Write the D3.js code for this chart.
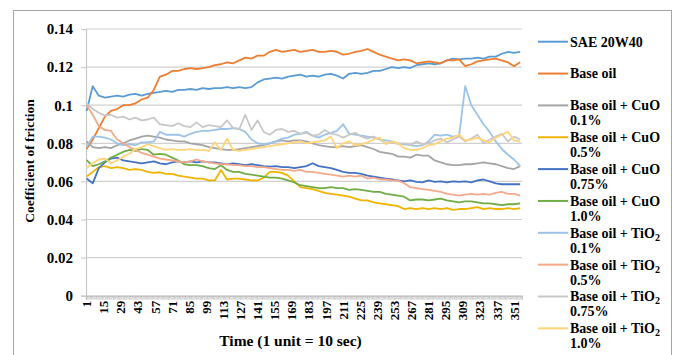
<!DOCTYPE html>
<html>
<head>
<meta charset="utf-8">
<script src="https://cdn.jsdelivr.net/npm/d3@7"></script>
<style>
  body { margin: 0; background: #fff; }
  text { font-family: "Liberation Serif", "Times New Roman", serif; font-weight: bold; fill: #000; }
</style>
</head>
<body>
<svg id="chart" width="678" height="355"></svg>
<script>
const N_READINGS = 357;
const SAMPLE_STEP = 5;
const X_TICKS = [1, 15, 29, 43, 57, 71, 85, 99, 113, 127, 141, 155, 169, 183, 197, 211, 225, 239, 253, 267, 281, 295, 309, 323, 337, 351];
const Y_TICKS = [0, 0.02, 0.04, 0.06, 0.08, 0.1, 0.12, 0.14];

const SAE_20W40 = [0.097, 0.110, 0.105, 0.104, 0.1045, 0.105, 0.1045, 0.1055, 0.106, 0.105, 0.106, 0.1065, 0.107, 0.1075, 0.107, 0.108, 0.108, 0.1085, 0.108, 0.109, 0.1085, 0.109, 0.109, 0.1095, 0.109, 0.1095, 0.109, 0.1095, 0.112, 0.1135, 0.114, 0.1145, 0.114, 0.115, 0.1155, 0.116, 0.115, 0.1155, 0.115, 0.116, 0.1165, 0.1155, 0.114, 0.1165, 0.117, 0.1165, 0.117, 0.118, 0.118, 0.119, 0.120, 0.1195, 0.120, 0.1195, 0.121, 0.1215, 0.122, 0.1215, 0.122, 0.1235, 0.1245, 0.124, 0.1245, 0.1245, 0.125, 0.1245, 0.1255, 0.1255, 0.127, 0.128, 0.1275, 0.128];
const BASE_OIL = [0.077, 0.082, 0.088, 0.094, 0.097, 0.098, 0.100, 0.100, 0.101, 0.103, 0.104, 0.108, 0.115, 0.116, 0.118, 0.118, 0.119, 0.1195, 0.119, 0.1195, 0.120, 0.121, 0.1215, 0.1225, 0.122, 0.1235, 0.125, 0.1245, 0.126, 0.126, 0.128, 0.129, 0.128, 0.1285, 0.129, 0.128, 0.1285, 0.129, 0.128, 0.128, 0.1285, 0.128, 0.1265, 0.127, 0.128, 0.1285, 0.1295, 0.128, 0.1265, 0.1255, 0.1245, 0.1235, 0.124, 0.1235, 0.122, 0.1225, 0.123, 0.1225, 0.122, 0.1235, 0.1235, 0.124, 0.1205, 0.1215, 0.123, 0.1235, 0.124, 0.1245, 0.1235, 0.1225, 0.1205, 0.1225];
const CUO_01 = [0.081, 0.078, 0.0775, 0.078, 0.0775, 0.079, 0.080, 0.0815, 0.0825, 0.0835, 0.084, 0.0835, 0.083, 0.082, 0.0815, 0.081, 0.081, 0.080, 0.0795, 0.079, 0.078, 0.0775, 0.077, 0.0765, 0.0765, 0.077, 0.0775, 0.078, 0.0785, 0.079, 0.080, 0.081, 0.0815, 0.081, 0.0815, 0.0815, 0.081, 0.080, 0.079, 0.0785, 0.078, 0.078, 0.0785, 0.078, 0.0785, 0.079, 0.078, 0.077, 0.0755, 0.075, 0.0745, 0.073, 0.073, 0.0725, 0.074, 0.0735, 0.0735, 0.071, 0.070, 0.069, 0.0685, 0.0685, 0.069, 0.069, 0.0695, 0.070, 0.0695, 0.069, 0.068, 0.067, 0.0665, 0.068];
const CUO_05 = [0.0625, 0.065, 0.0675, 0.068, 0.067, 0.0675, 0.067, 0.066, 0.0665, 0.066, 0.065, 0.0645, 0.0648, 0.064, 0.064, 0.063, 0.0625, 0.062, 0.0615, 0.0615, 0.0605, 0.0605, 0.066, 0.061, 0.0615, 0.0615, 0.061, 0.0605, 0.0605, 0.062, 0.065, 0.065, 0.0645, 0.063, 0.060, 0.057, 0.0565, 0.056, 0.055, 0.054, 0.0535, 0.053, 0.0525, 0.052, 0.051, 0.050, 0.050, 0.049, 0.0485, 0.048, 0.0475, 0.047, 0.0455, 0.046, 0.0455, 0.046, 0.0455, 0.046, 0.0455, 0.046, 0.045, 0.0455, 0.0455, 0.046, 0.0465, 0.0455, 0.046, 0.0455, 0.0455, 0.046, 0.0455, 0.046];
const CUO_075 = [0.0615, 0.059, 0.067, 0.070, 0.072, 0.0725, 0.071, 0.0705, 0.070, 0.0695, 0.070, 0.0705, 0.0695, 0.069, 0.070, 0.0705, 0.070, 0.0705, 0.070, 0.0705, 0.070, 0.070, 0.0695, 0.069, 0.0695, 0.069, 0.0685, 0.069, 0.0685, 0.068, 0.0678, 0.068, 0.0675, 0.0675, 0.067, 0.0675, 0.068, 0.0695, 0.068, 0.0675, 0.067, 0.066, 0.065, 0.0645, 0.0645, 0.064, 0.063, 0.0625, 0.062, 0.0615, 0.061, 0.0605, 0.060, 0.0605, 0.0598, 0.0595, 0.0605, 0.0598, 0.060, 0.0595, 0.060, 0.0598, 0.060, 0.0595, 0.0605, 0.061, 0.060, 0.059, 0.0585, 0.0585, 0.0585, 0.0585];
const CUO_10 = [0.0712, 0.068, 0.069, 0.0705, 0.0725, 0.074, 0.0755, 0.0765, 0.076, 0.077, 0.0765, 0.074, 0.0745, 0.074, 0.0725, 0.071, 0.069, 0.0685, 0.0685, 0.068, 0.067, 0.0665, 0.0685, 0.066, 0.065, 0.065, 0.064, 0.0635, 0.063, 0.0625, 0.062, 0.062, 0.0615, 0.0605, 0.0595, 0.058, 0.0575, 0.057, 0.0565, 0.0565, 0.057, 0.0565, 0.0565, 0.0555, 0.056, 0.0555, 0.055, 0.0545, 0.0545, 0.0535, 0.053, 0.0525, 0.052, 0.050, 0.0505, 0.0505, 0.050, 0.0505, 0.051, 0.050, 0.0495, 0.049, 0.0495, 0.0495, 0.049, 0.0485, 0.0485, 0.048, 0.0475, 0.048, 0.048, 0.0485];
const TIO2_01 = [0.078, 0.0835, 0.0835, 0.083, 0.082, 0.080, 0.079, 0.0795, 0.079, 0.0805, 0.0805, 0.081, 0.086, 0.0845, 0.0845, 0.0845, 0.0835, 0.085, 0.086, 0.0865, 0.0865, 0.087, 0.0875, 0.0875, 0.088, 0.0875, 0.086, 0.082, 0.080, 0.0795, 0.080, 0.081, 0.0825, 0.083, 0.0845, 0.085, 0.086, 0.084, 0.083, 0.0845, 0.0855, 0.0865, 0.090, 0.085, 0.0845, 0.084, 0.0835, 0.083, 0.082, 0.0815, 0.081, 0.080, 0.0795, 0.079, 0.0785, 0.079, 0.081, 0.0845, 0.084, 0.0845, 0.0835, 0.084, 0.110, 0.100, 0.095, 0.090, 0.086, 0.081, 0.077, 0.074, 0.0715, 0.068];
const TIO2_05 = [0.100, 0.095, 0.089, 0.087, 0.0865, 0.082, 0.080, 0.078, 0.0765, 0.075, 0.074, 0.073, 0.072, 0.0715, 0.071, 0.0705, 0.070, 0.0705, 0.0715, 0.0705, 0.070, 0.0695, 0.069, 0.069, 0.0685, 0.0685, 0.068, 0.068, 0.0675, 0.0675, 0.067, 0.0665, 0.066, 0.066, 0.0655, 0.066, 0.065, 0.065, 0.0645, 0.064, 0.0635, 0.063, 0.0625, 0.063, 0.0625, 0.063, 0.0615, 0.062, 0.061, 0.061, 0.0605, 0.0605, 0.059, 0.057, 0.0565, 0.056, 0.0555, 0.055, 0.0545, 0.0535, 0.053, 0.0525, 0.053, 0.0535, 0.053, 0.0535, 0.053, 0.054, 0.0545, 0.0535, 0.0535, 0.0525];
const TIO2_075 = [0.101, 0.098, 0.096, 0.0945, 0.095, 0.0935, 0.094, 0.0925, 0.0935, 0.092, 0.0925, 0.0935, 0.090, 0.0895, 0.089, 0.0905, 0.089, 0.0885, 0.091, 0.0885, 0.0895, 0.089, 0.0885, 0.092, 0.088, 0.0875, 0.095, 0.087, 0.092, 0.086, 0.0845, 0.087, 0.0875, 0.086, 0.0865, 0.085, 0.0855, 0.084, 0.0845, 0.087, 0.085, 0.0845, 0.083, 0.0845, 0.0855, 0.0835, 0.0825, 0.0835, 0.082, 0.080, 0.0805, 0.0795, 0.080, 0.079, 0.081, 0.0795, 0.080, 0.0815, 0.0825, 0.0805, 0.082, 0.0835, 0.081, 0.0825, 0.0845, 0.080, 0.082, 0.0835, 0.085, 0.081, 0.0835, 0.082];
const TIO2_10 = [0.067, 0.0695, 0.0715, 0.072, 0.0695, 0.071, 0.073, 0.0745, 0.077, 0.078, 0.0795, 0.0785, 0.0775, 0.0765, 0.077, 0.0765, 0.0765, 0.077, 0.0765, 0.0765, 0.076, 0.0805, 0.0765, 0.0825, 0.0765, 0.076, 0.0765, 0.077, 0.0775, 0.078, 0.0785, 0.079, 0.0795, 0.080, 0.0805, 0.081, 0.080, 0.0805, 0.081, 0.0815, 0.0835, 0.0775, 0.080, 0.081, 0.079, 0.0795, 0.0805, 0.082, 0.083, 0.0795, 0.081, 0.080, 0.0775, 0.0765, 0.0765, 0.0775, 0.079, 0.0795, 0.081, 0.0825, 0.083, 0.0845, 0.0815, 0.082, 0.083, 0.0815, 0.0805, 0.083, 0.0845, 0.086, 0.0815, 0.081];

const SERIES_NAMES = [
  ['SAE 20W40'],
  ['Base oil'],
  ['Base oil + CuO', '0.1%'],
  ['Base oil + CuO', '0.5%'],
  ['Base oil + CuO', '0.75%'],
  ['Base oil + CuO', '1.0%'],
  ['Base oil + TiO₂', '0.1%'],
  ['Base oil + TiO₂', '0.5%'],
  ['Base oil + TiO₂', '0.75%'],
  ['Base oil + TiO₂', '1.0%']
];
const SERIES_VALUES = [SAE_20W40, BASE_OIL, CUO_01, CUO_05, CUO_075, CUO_10, TIO2_01, TIO2_05, TIO2_075, TIO2_10];
const COLORS = ['#5B9BD5', '#ED7D31', '#A5A5A5', '#F0B400', '#4472C4', '#70AD47', '#9DC3E6', '#F4A98A', '#C8C8C8', '#FFD47A'];

const svg = d3.select('#chart');

// outer chart frame
svg.append('rect')
  .attr('x', 13.5).attr('y', 10.5)
  .attr('width', 658).attr('height', 360)
  .attr('fill', 'none').attr('stroke', '#A6A6A6');

const plot = {left: 86, right: 522, top: 29, bottom: 295.7};

const x = d3.scaleBand()
  .domain(d3.range(1, N_READINGS + 1))
  .range([plot.left, plot.right]);
const xc = t => x(t) + x.bandwidth() / 2;

const y = d3.scaleLinear()
  .domain([0, 0.14])
  .range([plot.bottom, plot.top]);

// gridlines
svg.append('g')
  .selectAll('line')
  .data(Y_TICKS.slice(1))
  .join('line')
  .attr('x1', plot.left).attr('x2', plot.right)
  .attr('y1', d => y(d)).attr('y2', d => y(d))
  .attr('stroke', '#D0D0D0').attr('stroke-width', 1.2);

// y axis
const yAxis = svg.append('g')
  .attr('transform', 'translate(' + plot.left + ',0)')
  .call(d3.axisLeft(y).tickValues(Y_TICKS).tickSize(5).tickPadding(8).tickFormat(d3.format('~g')));
yAxis.select('.domain').attr('stroke', '#C8C8C8').attr('stroke-width', 1.2);
yAxis.selectAll('.tick line').attr('stroke', '#C8C8C8');
yAxis.selectAll('text').style('font-size', '15px').attr('fill', '#000');

// x axis: dense minor ticks
const xMinor = svg.append('g')
  .attr('transform', 'translate(0,' + plot.bottom + ')')
  .call(d3.axisBottom(x).tickSize(4).tickFormat(''));
xMinor.select('.domain').attr('stroke', '#C8C8C8').attr('stroke-width', 1.2);
xMinor.selectAll('.tick line').attr('stroke', '#B0B0B0').attr('stroke-width', 0.6);

// x axis labels, rotated
const xLabels = svg.append('g')
  .attr('transform', 'translate(0,' + plot.bottom + ')')
  .call(d3.axisBottom(x).tickValues(X_TICKS).tickSize(0));
xLabels.select('.domain').remove();
xLabels.selectAll('text')
  .attr('transform', 'rotate(-90)')
  .attr('x', -5).attr('y', 0).attr('dy', '0.35em')
  .style('text-anchor', 'end')
  .style('font-size', '13px')
  .attr('fill', '#000');

// series lines
const line = d3.line()
  .x((d, i) => xc(1 + i * SAMPLE_STEP))
  .y(d => y(d));

svg.append('g')
  .selectAll('path')
  .data(SERIES_VALUES)
  .join('path')
  .attr('fill', 'none')
  .attr('stroke', (d, i) => COLORS[i])
  .attr('stroke-width', 1.8)
  .attr('stroke-linejoin', 'round')
  .attr('d', line);

// axis titles
svg.append('text')
  .attr('transform', 'translate(34,161) rotate(-90)')
  .attr('text-anchor', 'middle')
  .style('font-size', '13.5px')
  .text('Coefficient of friction');

svg.append('text')
  .attr('x', 290.5).attr('y', 346)
  .attr('text-anchor', 'middle')
  .style('font-size', '15.5px')
  .text('Time (1 unit = 10 sec)');

// legend
const legend = svg.append('g');
const entries = legend.selectAll('g')
  .data(SERIES_NAMES)
  .join('g')
  .attr('transform', (d, i) => 'translate(538,' + (41.7 + i * 31.85) + ')');

entries.append('line')
  .attr('x1', 0).attr('x2', 30)
  .attr('stroke', (d, i) => COLORS[i])
  .attr('stroke-width', 2);

entries.each(function (lines) {
  const g = d3.select(this);
  lines.forEach((txt, j) => {
    const t = g.append('text')
      .attr('x', 32).attr('y', j * 15)
      .attr('dy', '0.35em')
      .style('font-size', '14px');
    const parts = txt.split('₂');
    t.append('tspan').text(parts[0]);
    if (parts.length > 1) {
      t.append('tspan').attr('dy', 3).style('font-size', '10px').text('2');
    }
  });
});
</script>
</body>
</html>
